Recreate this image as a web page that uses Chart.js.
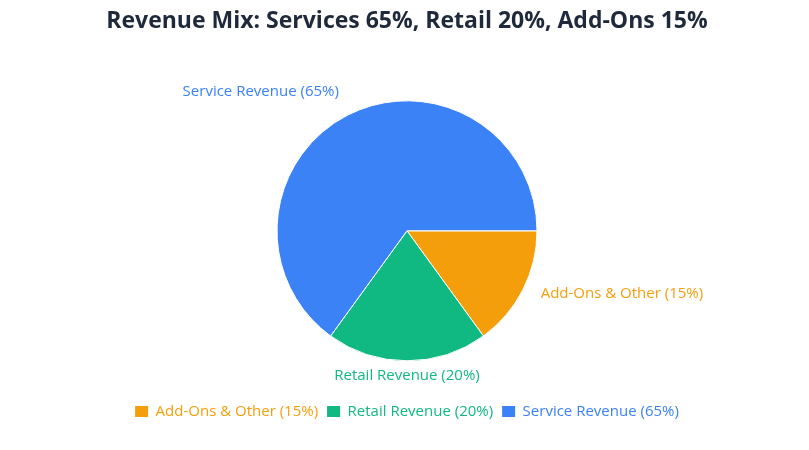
<!DOCTYPE html>
<html>
<head>
<meta charset="utf-8">
<script src="https://cdn.jsdelivr.net/npm/chart.js@4.4.0/dist/chart.umd.min.js"></script>
<style>
    body { margin: 0; background: #fff; }
    #wrap { width: 809px; height: 450px; }
</style>
</head>
<body>
<div id="wrap"><canvas id="myChart"></canvas></div>
<script>
var labels = ["Add-Ons & Other (15%)", "Retail Revenue (20%)", "Service Revenue (65%)"];
var values = [15, 20, 65];
var colors = ["#f59e0b", "#10b981", "#3b82f6"];

// draws each slice name just outside its arc, in the slice colour
var outsideLabels = {
    id: 'outsideLabels',
    afterDatasetsDraw: function (chart) {
        var ctx = chart.ctx;
        var arcs = chart.getDatasetMeta(0).data;
        ctx.save();
        ctx.font = '15px "Open Sans"';
        ctx.textBaseline = 'middle';
        for (var i = 0; i < arcs.length; i++) {
            var a = arcs[i];
            var mid = (a.startAngle + a.endAngle) / 2;
            var r = a.outerRadius + 20;
            var c = Math.cos(mid), s = Math.sin(mid);
            var x = a.x + c * r;
            var y = a.y + s * r - 5;
            if (Math.abs(c) < 0.2) ctx.textAlign = 'center';
            else if (c > 0) ctx.textAlign = 'left';
            else ctx.textAlign = 'right';
            ctx.fillStyle = colors[i];
            ctx.fillText(labels[i], x, y);
        }
        ctx.restore();
    }
};

new Chart("myChart", {
    type: "pie",
    data: {
        labels: labels,
        datasets: [{
            data: values,
            backgroundColor: colors,
            borderColor: "#fff",
            borderWidth: 1,
            radius: 130
        }]
    },
    options: {
        responsive: true,
        maintainAspectRatio: false,
        animation: false,
        rotation: 90,
        layout: {
            padding: { left: 5, bottom: 21 }
        },
        plugins: {
            title: {
                display: true,
                text: "Revenue Mix: Services 65%, Retail 20%, Add-Ons 15%",
                color: "#1e293b",
                font: { family: '"Open Sans"', size: 23, weight: 'bold' },
                padding: { top: 8, bottom: 31 }
            },
            legend: {
                position: 'bottom',
                labels: {
                    boxWidth: 13,
                    boxHeight: 11,
                    padding: 9,
                    font: { family: '"Open Sans"', size: 15 },
                    generateLabels: function (chart) {
                        return labels.map(function (l, i) {
                            return {
                                text: l,
                                fillStyle: colors[i],
                                strokeStyle: colors[i],
                                lineWidth: 0,
                                fontColor: colors[i],
                                index: i,
                                hidden: false
                            };
                        });
                    }
                }
            },
            tooltip: { enabled: false }
        }
    },
    plugins: [outsideLabels]
});
</script>
</body>
</html>
